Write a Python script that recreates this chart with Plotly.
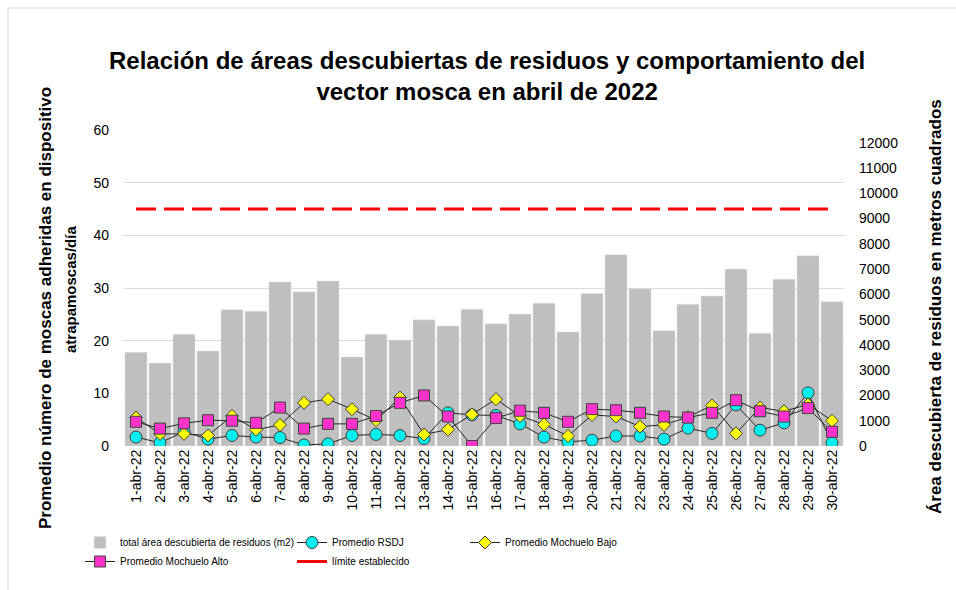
import plotly.graph_objects as go

dates = ["1-abr-22", "2-abr-22", "3-abr-22", "4-abr-22", "5-abr-22", "6-abr-22", "7-abr-22",
         "8-abr-22", "9-abr-22", "10-abr-22", "11-abr-22", "12-abr-22", "13-abr-22", "14-abr-22",
         "15-abr-22", "16-abr-22", "17-abr-22", "18-abr-22", "19-abr-22", "20-abr-22", "21-abr-22",
         "22-abr-22", "23-abr-22", "24-abr-22", "25-abr-22", "26-abr-22", "27-abr-22", "28-abr-22",
         "29-abr-22", "30-abr-22"]

area_m2 = [3710, 3280, 4420, 3760, 5390, 5330, 6490, 6100, 6530, 3520,
           4420, 4190, 4990, 4750, 5410, 4840, 5220, 5650, 4510, 6030,
           7570, 6210, 4560, 5610, 5930, 7000, 4460, 6600, 7530, 5710]

rsdj = [1.7, 0.6, 2.7, 1.3, 2.0, 1.7, 1.6, 0.2, 0.4, 2.0,
        2.2, 2.0, 1.4, 6.3, 5.9, 5.8, 4.2, 1.7, 0.8, 1.1,
        1.9, 1.9, 1.3, 3.4, 2.4, 7.8, 3.0, 4.4, 10.1, 0.6]

mochuelo_bajo = [5.4, 2.3, 2.3, 2.0, 5.7, 3.1, 4.0, 8.2, 8.9, 7.0,
                 4.9, 9.2, 2.2, 3.1, 6.0, 8.9, 5.7, 4.1, 1.9, 5.9,
                 5.6, 3.7, 4.0, 5.5, 7.7, 2.4, 7.3, 6.6, 7.9, 4.8]

mochuelo_alto = [4.6, 3.3, 4.3, 4.9, 4.8, 4.4, 7.3, 3.3, 4.2, 4.2,
                 5.7, 8.2, 9.6, 5.6, 0.0, 5.3, 6.7, 6.3, 4.6, 7.0,
                 6.8, 6.3, 5.6, 5.4, 6.3, 8.7, 6.6, 5.6, 7.2, 2.7]

limite = 45

left_ticks = [0, 10, 20, 30, 40, 50, 60]
right_ticks = [0, 1000, 2000, 3000, 4000, 5000, 6000, 7000, 8000, 9000, 10000, 11000, 12000]
right_ticktext = [str(v) for v in right_ticks]

FONT = "Liberation Sans, Arial, sans-serif"

fig = go.Figure()

fig.add_trace(go.Bar(
    x=dates, y=area_m2, name="total área descubierta de residuos (m2)",
    marker=dict(color="#BFBFBF", line=dict(color="#E6E6E6", width=0.5)),
    yaxis="y", legend="legend",
))

fig.add_trace(go.Scatter(
    x=dates, y=rsdj, name="Promedio RSDJ", mode="lines+markers",
    line=dict(color="#262626", width=1),
    marker=dict(symbol="circle", size=12, color="#00F0F0", line=dict(color="#404040", width=1)),
    yaxis="y2", legend="legend2",
))
fig.add_trace(go.Scatter(
    x=dates, y=mochuelo_bajo, name="Promedio Mochuelo Bajo", mode="lines+markers",
    line=dict(color="#262626", width=1),
    marker=dict(symbol="diamond", size=10, color="#FFFF00", line=dict(color="#404040", width=1)),
    yaxis="y2", legend="legend3",
))
fig.add_trace(go.Scatter(
    x=dates, y=mochuelo_alto, name="Promedio Mochuelo Alto", mode="lines+markers",
    line=dict(color="#262626", width=1),
    marker=dict(symbol="square", size=11, color="#FF33CC", line=dict(color="#404040", width=1)),
    yaxis="y2", legend="legend",
))
fig.add_trace(go.Scatter(
    x=[dates[0], dates[-1]], y=[limite, limite], name="límite establecido", mode="lines",
    line=dict(color="#FF0000", width=3, dash="20px,8px"),
    yaxis="y2", showlegend=False,
))
# legend entry for the limit line (solid short stroke as in the reference legend)
fig.add_trace(go.Scatter(
    x=[None], y=[None], name="límite establecido", mode="lines",
    line=dict(color="#FF0000", width=3),
    yaxis="y2", legend="legend2",
))

L, R, T, B = 124, 112, 130, 144
W, H = 956, 590
pw, ph = W - L - R, H - T - B

def px_x(x):
    return (x - L) / pw

def px_y(y):
    return (H - B - y) / ph

def legend_box(xpx):
    return dict(
        orientation="v", x=px_x(xpx), y=px_y(528), xanchor="left", yanchor="top",
        font=dict(family=FONT, size=10, color="#000000"),
        itemwidth=30, traceorder="normal", tracegroupgap=0,
        bgcolor="rgba(0,0,0,0)",
    )

fig.update_layout(
    width=W, height=H,
    margin=dict(l=L, r=R, t=T, b=B, autoexpand=False),
    paper_bgcolor="white", plot_bgcolor="white",
    font=dict(family=FONT, size=14, color="#000000"),
    bargap=0.08,
    showlegend=True,
    legend=legend_box(80),
    legend2=legend_box(292),
    legend3=legend_box(465),
    xaxis=dict(
        type="category", range=[-0.5, len(dates) - 0.5], tickangle=-90,
        showgrid=False, showline=False, zeroline=False,
        tickfont=dict(family=FONT, size=14, color="#000000"), ticks="",
    ),
    yaxis=dict(
        side="right", range=[0, 12500], tickvals=right_ticks, ticktext=right_ticktext,
        showgrid=False, zeroline=False, showline=False, ticks="", ticklabelstandoff=14,
        tickfont=dict(family=FONT, size=14, color="#000000"),
    ),
    yaxis2=dict(
        side="left", overlaying="y", range=[0, 60], tickvals=left_ticks, showgrid=True,
        gridcolor="#D9D9D9", gridwidth=1, zeroline=False, showline=False, ticks="",
        ticklabelstandoff=14,
        tickfont=dict(family=FONT, size=14, color="#000000"),
    ),
    shapes=[dict(type="rect", xref="paper", yref="paper",
                 x0=px_x(8), y0=px_y(8), x1=px_x(965), y1=px_y(605),
                 line=dict(color="#D9D9D9", width=1), fillcolor="rgba(0,0,0,0)", layer="below")],
    annotations=[
        dict(text="<b>Relación de áreas descubiertas de residuos y comportamiento del<br>vector mosca en abril de 2022</b>",
             xref="paper", yref="paper", x=px_x(487), y=px_y(76), xanchor="center", yanchor="middle",
             showarrow=False, font=dict(family=FONT, size=24, color="#000000")),
        dict(text="<b>Promedio número de moscas adheridas en dispositivo</b>",
             xref="paper", yref="paper", x=px_x(45), y=px_y(308), xanchor="center", yanchor="middle",
             textangle=-90, showarrow=False, font=dict(family=FONT, size=17, color="#000000")),
        dict(text="<b>atrapamoscas/día</b>",
             xref="paper", yref="paper", x=px_x(70), y=px_y(290), xanchor="center", yanchor="middle",
             textangle=-90, showarrow=False, font=dict(family=FONT, size=15, color="#000000")),
        dict(text="<b>Área descubierta de residuos en metros cuadrados</b>",
             xref="paper", yref="paper", x=px_x(935), y=px_y(307), xanchor="center", yanchor="middle",
             textangle=-90, showarrow=False, font=dict(family=FONT, size=17, color="#000000")),
    ],
)

fig.write_html("out.html", config={"displayModeBar": False},
               post_script="document.body.style.margin='0px';")
